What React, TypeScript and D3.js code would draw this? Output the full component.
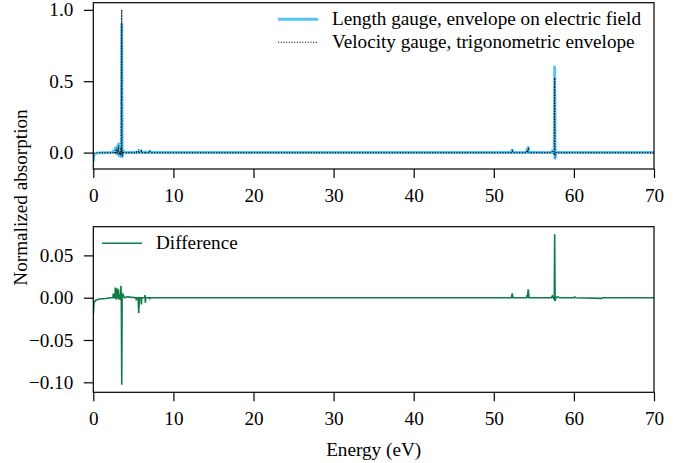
import React, { useRef, useEffect } from "react";
import * as d3 from "d3";

// Energy grid (eV) shared by all three curves
const energy = [
  0, 0.08, 0.3, 0.8, 1.5, 2.2, 2.45, 2.5, 2.55, 2.7, 2.75, 2.8, 2.9, 2.95, 3.0, 3.1, 3.15, 3.2, 3.3, 3.4,
  3.45, 3.5, 3.55, 3.6, 3.7, 3.8, 3.9, 4.2, 5.3, 5.37, 5.45, 5.6, 5.67, 5.75, 5.95, 6.0, 6.05, 6.4, 6.45, 6.5,
  6.55, 7.0, 7.05, 7.1, 52.2, 52.3, 52.4, 54.1, 54.15, 54.2, 54.3, 54.4, 57.2, 57.3, 57.4, 57.55, 57.6, 57.65,
  57.75, 58.0, 58.2, 60.0, 60.1, 60.2, 63.5, 63.6, 70,
];

const lengthGauge = [
  -0.065, -0.012, -0.005, -0.002, -0.001, 0, 0.002, 0.01, 0, 0, 0.03, 0, -0.005, 0.04, -0.01, 0.005, 0.06, -0.02, 0.01, -0.025,
  0.05, -0.01, 0.9, -0.03, 0.015, 0, 0, 0, 0, 0.003, 0, 0, 0.004, 0, 0, 0.012, 0, 0, 0.003, 0.004,
  0, 0, 0.008, 0, 0, 0.018, 0, 0, 0.022, 0.01, 0.035, 0, 0, 0.01, 0, -0.01, 0.6, -0.04,
  0, 0, 0, 0, 0.002, 0, 0, 0, 0,
];

const velocityGauge = [
  -0.045, -0.006, -0.002, 0, 0, 0, 0, 0.005, 0, 0, 0.018, 0, 0, 0.029, -0.008, 0.005, 0.05, -0.015, 0.005, -0.02,
  0.036, -0.01, 1.003, -0.03, 0.01, 0, 0, 0, 0, 0.005, 0, 0, 0.022, 0, 0, 0.02, 0, 0, 0, 0.01,
  0, 0, 0.009, 0, 0, 0.012, 0, 0, 0.018, 0.01, 0.025, 0, 0, 0.008, 0, -0.008, 0.525, -0.036,
  0, 0, 0, 0, 0.001, 0, 0, 0, 0,
];

const difference = [
  -0.02, -0.006, -0.003, -0.0015, -0.001, 0, 0, 0.005, 0, 0, 0.012, 0, -0.002, 0.011, 0, 0, 0.01, -0.002, 0.004, -0.003,
  0.014, 0, -0.103, 0, 0.004, 0.002, 0, 0.001, 0, -0.003, 0, 0, -0.018, 0, 0, -0.008, 0, 0, 0.003, -0.006,
  0, 0, -0.001, 0, 0, 0.005, 0, 0, 0.003, 0, 0.01, 0, 0, 0.002, 0, -0.002, 0.075, -0.004,
  0, 0.001, 0, 0, 0.001, 0, -0.0008, 0, 0,
];

const xTicks = [0, 10, 20, 30, 40, 50, 60, 70];
const topYTicks = [0, 0.5, 1.0];
const bottomYTicks = [-0.1, -0.05, 0, 0.05];

const FONT = "Liberation Serif, serif";
const FS = "19.2px";
const BLUE = "#56c3f3";
const GREEN = "#0e7b49";

const App = () => {
  const svgRef = useRef<SVGSVGElement>(null);

  useEffect(() => {
    const svg = d3.select(svgRef.current);
    svg.selectAll("*").remove();

    const left = 93.3;
    const right = 654;
    const top1 = { y0: 2.7, y1: 169 };
    const top2 = { y0: 226.7, y1: 392.3 };

    const x = d3.scaleLinear().domain([0, 70]).range([left, right]);
    const yTop = d3.scaleLinear().domain([-0.115, 1.05]).range([top1.y1, top1.y0]);
    const yBot = d3.scaleLinear().domain([-0.1118, 0.0839]).range([top2.y1, top2.y0]);

    const defs = svg.append("defs");
    [["clip-top", top1], ["clip-bot", top2]].forEach(([id, p]: any) => {
      defs
        .append("clipPath")
        .attr("id", id)
        .append("rect")
        .attr("x", left)
        .attr("y", p.y0)
        .attr("width", right - left)
        .attr("height", p.y1 - p.y0);
    });

    const pts = energy.map((e, i) => i);

    // Top panel curves
    const lineTop = (vals: number[]) =>
      d3
        .line<number>()
        .x((i) => x(energy[i]))
        .y((i) => yTop(vals[i]))(pts);

    svg
      .append("path")
      .attr("d", lineTop(lengthGauge))
      .attr("clip-path", "url(#clip-top)")
      .attr("fill", "none")
      .attr("stroke", BLUE)
      .attr("stroke-width", 3)
      .attr("stroke-linejoin", "round");

    svg
      .append("path")
      .attr("d", lineTop(velocityGauge))
      .attr("clip-path", "url(#clip-top)")
      .attr("fill", "none")
      .attr("stroke", "#000")
      .attr("stroke-width", 1.1)
      .attr("stroke-dasharray", "1.1,1.6");

    // Bottom panel curve
    svg
      .append("path")
      .attr(
        "d",
        d3
          .line<number>()
          .x((i) => x(energy[i]))
          .y((i) => yBot(difference[i]))(pts)
      )
      .attr("clip-path", "url(#clip-bot)")
      .attr("fill", "none")
      .attr("stroke", GREEN)
      .attr("stroke-width", 1.6);

    // Axes
    const styleAxis = (g: any) => {
      g.select(".domain").remove();
      g.selectAll("line").attr("stroke", "#000").attr("stroke-width", 1.2);
      g.selectAll("text").attr("font-family", FONT).attr("font-size", FS).attr("fill", "#000");
    };

    [
      [top1, yTop, topYTicks, d3.format(".1f")],
      [top2, yBot, bottomYTicks, d3.format(".2f")],
    ].forEach(([p, y, yt, fmt]: any) => {
      svg
        .append("g")
        .attr("transform", `translate(0,${p.y1})`)
        .call(d3.axisBottom(x).tickValues(xTicks).tickFormat(d3.format("d")).tickSize(9).tickPadding(10))
        .call(styleAxis);
      svg
        .append("g")
        .attr("transform", `translate(${left},0)`)
        .call(d3.axisLeft(y).tickValues(yt).tickFormat(fmt).tickSize(9.5).tickPadding(10.5))
        .call(styleAxis);
      svg
        .append("rect")
        .attr("x", left)
        .attr("y", p.y0)
        .attr("width", right - left)
        .attr("height", p.y1 - p.y0)
        .attr("fill", "none")
        .attr("stroke", "#000")
        .attr("stroke-width", 1.2);
    });

    // Legends
    const legend = (x0: number, y0: number, label: string, stroke: string, width: number, dash?: string) => {
      svg
        .append("line")
        .attr("x1", x0)
        .attr("x2", x0 + 40)
        .attr("y1", y0)
        .attr("y2", y0)
        .attr("stroke", stroke)
        .attr("stroke-width", width)
        .attr("stroke-dasharray", dash || null);
      svg
        .append("text")
        .attr("x", x0 + 54)
        .attr("y", y0 + 5.5)
        .attr("font-family", FONT)
        .attr("font-size", FS)
        .text(label);
    };
    legend(278, 19.3, "Length gauge, envelope on electric field", BLUE, 3);
    legend(278, 42.3, "Velocity gauge, trigonometric envelope", "#000", 1.1, "1.1,1.6");
    legend(102, 243.3, "Difference", GREEN, 1.6);

    // Axis titles
    svg
      .append("text")
      .attr("x", (left + right) / 2)
      .attr("y", 456)
      .attr("text-anchor", "middle")
      .attr("font-family", FONT)
      .attr("font-size", FS)
      .text("Energy (eV)");

    svg
      .append("text")
      .attr("transform", `translate(26.5,${(top1.y0 + top2.y1) / 2}) rotate(-90)`)
      .attr("text-anchor", "middle")
      .attr("font-family", FONT)
      .attr("font-size", FS)
      .text("Normalized absorption");
  }, []);

  return (
    <svg
      ref={svgRef}
      width={682}
      height={463}
      style={{ position: "absolute", left: 0, top: 0, background: "#fff" }}
    ></svg>
  );
};

export default App;
